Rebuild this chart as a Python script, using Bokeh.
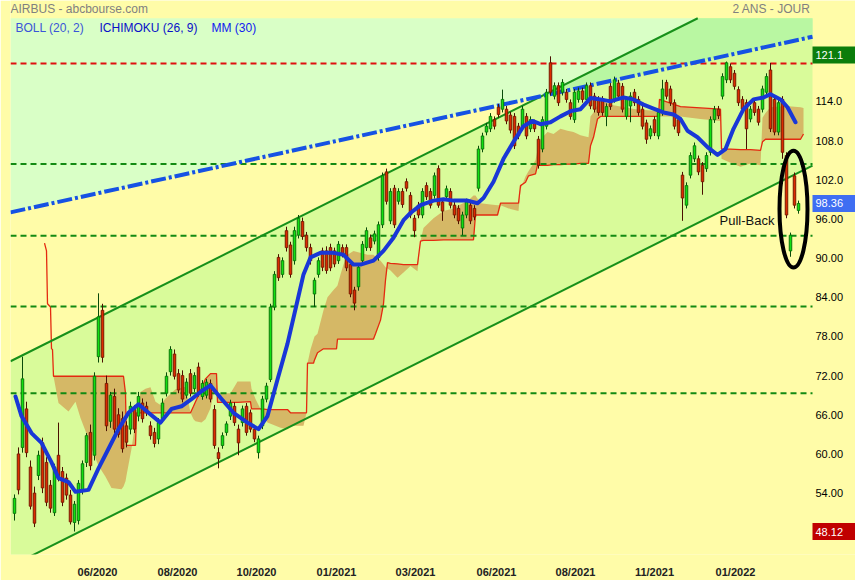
import numpy as np
from bokeh.plotting import figure
from bokeh.models import Range1d, FixedTicker, Label, ColumnDataSource
from bokeh.core.properties import value
from bokeh.embed import file_html
from bokeh.resources import INLINE

# ---------------- data ----------------
opens = [50.9, 60.0, 61.0, 66.9, 58.0, 54.0, 56.7, 61.7, 58.7, 55.2,
         51.0, 59.8, 57.3, 56.3, 53.7, 49.5, 49.8, 54.4, 58.7, 63.3,
         59.8, 74.9, 82.0, 70.8, 65.0, 68.8, 66.0, 65.4, 64.3, 63.8,
         66.8, 65.8, 67.8, 67.3, 64.3, 63.3, 62.3, 65.4, 69.3, 72.6,
         75.3, 72.3, 72.0, 69.0, 72.3, 70.0, 73.3, 68.8, 69.0, 70.8,
         66.8, 60.2, 61.3, 63.3, 65.8, 67.3, 63.8, 64.8, 67.3, 66.3,
         63.8, 60.2, 64.3, 68.4, 71.4, 82.5, 90.1, 87.5, 94.2, 92.0,
         89.6, 93.5, 95.6, 93.5, 91.6, 84.5, 87.5, 91.1, 91.1, 91.6,
         91.1, 89.6, 91.6, 91.6, 89.0, 85.1, 85.6, 89.6, 91.6, 93.1,
         92.6, 90.1, 95.1, 103.2, 95.7, 100.7, 98.7, 100.2, 101.7, 99.6,
         96.1, 98.1, 96.6, 101.1, 100.2, 99.6, 103.7, 98.6, 99.4, 100.2,
         98.1, 97.6, 94.6, 96.6, 98.1, 97.6, 100.7, 106.7, 109.3, 109.8,
         111.2, 113.1, 112.8, 112.8, 111.9, 111.7, 110.2, 110.2, 111.7, 109.8,
         110.7, 108.2, 106.7, 110.2, 119.9, 114.8, 116.4, 115.4, 115.4, 113.8,
         111.2, 114.3, 115.6, 114.3, 116.4, 114.8, 114.3, 114.3, 111.7, 116.3,
         114.3, 116.8, 116.3, 111.7, 113.3, 115.4, 114.3, 112.8, 110.7, 108.7,
         111.2, 108.7, 112.3, 116.9, 115.9, 113.8, 111.2, 102.7, 98.1, 102.7,
         105.2, 105.2, 104.2, 103.7, 106.2, 111.2, 112.8, 114.8, 117.3, 119.3,
         118.3, 115.8, 114.3, 113.8, 111.3, 113.8, 112.8, 112.8, 115.4, 118.8,
         114.3, 109.3, 114.3, 105.7, 91.1, 102.6, 97.3]
highs = [53.8, 61.0, 74.9, 68.0, 59.0, 55.0, 60.5, 62.5, 59.5, 56.0,
         58.5, 64.8, 58.0, 57.0, 54.5, 52.8, 56.0, 59.0, 63.2, 64.5,
         72.5, 84.6, 83.0, 72.0, 69.5, 70.0, 67.0, 66.5, 65.0, 68.0,
         67.5, 69.5, 68.5, 68.0, 65.0, 64.0, 65.5, 68.5, 72.5, 76.5,
         76.0, 73.0, 72.8, 71.6, 73.0, 72.5, 74.0, 71.3, 71.5, 71.4,
         67.5, 61.0, 63.3, 65.0, 68.3, 67.9, 64.5, 67.4, 67.8, 66.8,
         64.3, 62.8, 68.9, 70.9, 83.0, 88.0, 90.6, 90.1, 94.8, 92.5,
         94.8, 96.6, 96.2, 94.0, 92.2, 87.0, 90.1, 91.6, 91.8, 92.2,
         91.6, 92.6, 92.1, 92.1, 89.5, 85.6, 89.0, 92.6, 94.7, 93.6,
         94.2, 95.6, 103.1, 103.7, 100.7, 101.2, 100.7, 100.7, 102.2, 100.1,
         96.6, 98.6, 100.7, 101.6, 100.7, 103.1, 104.2, 99.1, 101.1, 100.7,
         98.6, 98.1, 97.1, 99.1, 98.6, 98.1, 107.2, 109.2, 110.7, 112.2,
         111.7, 113.6, 115.8, 113.3, 112.4, 112.2, 110.7, 113.3, 112.2, 111.7,
         111.2, 108.7, 111.7, 115.9, 120.9, 116.9, 116.9, 117.4, 115.9, 114.3,
         115.9, 116.1, 116.1, 116.9, 116.9, 115.3, 114.8, 114.8, 113.7, 116.8,
         117.8, 117.3, 116.8, 114.8, 115.4, 115.9, 114.8, 113.3, 111.2, 110.3,
         111.7, 112.8, 117.3, 117.3, 116.4, 114.3, 111.7, 103.2, 101.6, 106.2,
         107.7, 105.7, 104.7, 106.2, 111.7, 113.3, 113.3, 118.3, 120.1, 119.8,
         118.8, 116.3, 114.8, 114.3, 113.3, 114.3, 113.3, 116.4, 118.3, 119.9,
         114.8, 114.3, 114.8, 106.2, 93.9, 103.1, 98.8]
lows = [49.8, 53.8, 60.2, 59.5, 51.5, 48.8, 56.0, 54.0, 52.0, 51.0,
        50.5, 55.8, 52.0, 53.0, 49.2, 48.12, 49.2, 53.8, 58.0, 57.5,
        59.0, 74.0, 74.0, 63.5, 64.0, 63.2, 62.5, 60.2, 61.0, 63.0,
        63.2, 65.0, 64.8, 65.8, 62.2, 61.0, 61.5, 64.8, 68.8, 72.0,
        71.4, 69.3, 67.9, 68.5, 68.8, 69.5, 68.8, 68.3, 68.5, 67.9,
        60.8, 57.8, 60.8, 62.8, 65.2, 64.3, 59.8, 64.2, 62.8, 63.3,
        61.8, 59.3, 63.8, 67.9, 71.0, 82.0, 86.5, 87.0, 91.0, 87.0,
        89.0, 93.0, 92.8, 91.0, 89.0, 82.5, 87.0, 88.0, 87.6, 88.0,
        88.6, 89.1, 90.1, 88.0, 84.0, 82.0, 85.0, 89.1, 91.1, 91.1,
        92.1, 89.6, 94.6, 98.2, 95.2, 94.6, 98.2, 97.7, 100.2, 96.1,
        93.2, 96.1, 96.1, 98.9, 97.6, 99.1, 97.7, 95.7, 98.9, 97.6,
        96.1, 95.2, 93.5, 96.1, 95.2, 95.8, 100.2, 106.2, 108.8, 109.3,
        109.7, 111.5, 112.3, 110.5, 109.1, 106.7, 108.2, 109.7, 108.2, 109.3,
        109.3, 103.7, 106.2, 109.7, 114.9, 114.3, 113.3, 114.9, 113.8, 111.2,
        110.7, 113.8, 113.8, 113.8, 112.8, 112.3, 111.8, 111.8, 110.2, 112.7,
        113.8, 114.3, 112.3, 111.2, 110.8, 113.3, 111.8, 109.7, 107.5, 108.2,
        108.7, 108.2, 111.8, 114.3, 113.3, 109.7, 108.7, 95.7, 97.6, 102.2,
        104.7, 102.7, 99.7, 103.2, 105.7, 110.7, 111.3, 114.3, 116.8, 116.8,
        115.8, 113.3, 112.3, 106.7, 110.8, 111.8, 110.3, 112.3, 114.9, 109.3,
        108.8, 108.8, 105.2, 96.1, 90.2, 97.6, 96.8]
closes = [53.2, 54.5, 71.5, 60.2, 52.0, 49.4, 59.8, 54.8, 52.6, 51.7,
          58.0, 56.3, 52.6, 53.7, 49.6, 52.3, 55.5, 58.5, 62.8, 58.2,
          71.9, 81.0, 74.8, 64.3, 69.0, 63.8, 63.0, 60.8, 61.8, 67.3,
          63.8, 68.8, 65.4, 66.3, 62.8, 61.6, 64.8, 67.8, 71.9, 76.0,
          71.9, 69.8, 68.4, 71.0, 69.3, 72.0, 69.3, 70.8, 71.0, 68.4,
          61.3, 59.3, 62.8, 64.6, 67.8, 64.8, 61.7, 66.9, 63.3, 63.8,
          62.3, 62.3, 68.4, 70.4, 82.5, 87.5, 87.0, 89.6, 91.6, 87.5,
          94.2, 96.1, 93.3, 91.6, 89.6, 86.6, 89.6, 88.6, 88.1, 88.5,
          89.1, 92.1, 90.6, 88.5, 84.5, 83.1, 88.6, 92.1, 94.2, 91.6,
          93.7, 95.1, 102.6, 98.7, 100.2, 95.1, 100.2, 98.2, 100.7, 96.6,
          94.2, 96.6, 100.2, 99.4, 98.1, 102.6, 98.1, 97.2, 100.6, 98.1,
          96.6, 95.7, 96.6, 98.6, 95.7, 96.3, 106.7, 108.7, 110.2, 111.7,
          110.2, 112.0, 114.3, 111.0, 109.6, 107.2, 108.7, 112.8, 108.7, 111.2,
          109.8, 104.2, 111.2, 115.4, 115.4, 116.4, 113.8, 116.9, 114.3, 111.7,
          115.4, 115.6, 114.3, 116.4, 113.3, 112.8, 112.3, 112.3, 113.2, 113.2,
          117.3, 114.8, 112.8, 114.3, 114.8, 113.8, 112.3, 110.2, 108.2, 109.8,
          109.2, 112.3, 115.9, 114.8, 113.8, 110.2, 109.2, 99.2, 101.1, 105.7,
          107.2, 103.2, 101.7, 105.7, 111.2, 112.8, 111.8, 117.8, 119.9, 117.3,
          116.3, 113.8, 112.8, 109.8, 112.8, 112.3, 110.8, 115.9, 117.8, 109.8,
          109.3, 113.8, 106.2, 96.6, 93.5, 98.1, 98.36]
bars = list(range(len(closes)))

# MM (30)
ma_x = [0.25, 1.75, 4.25, 6.75, 9.25, 11, 13.5, 15.25, 18.5, 21,
        23.5, 26, 28.5, 31, 33.5, 36.5, 39.25, 41.75, 44.25, 46.75,
        49, 51.5, 54.75, 58.25, 61, 63.25, 65.75, 68.25, 70.75, 72.25,
        74, 76.5, 79.75, 82.25, 84.75, 86.5, 89.75, 92.25, 94.75, 97.25,
        99, 101.5, 104.75, 107.25, 109.75, 113.25, 115.75, 117.25, 119.75, 122.25,
        124.75, 127.25, 129.5, 131.5, 134, 136.5, 139, 141.5, 144, 146.5,
        149, 152.25, 154.75, 157.25, 159.75, 162.25, 164.75, 166.5, 168.25, 170.75,
        173.25, 175.75, 177.75, 179.75, 182.25, 184.75, 187.25, 189, 191.5, 193.25,
        195.25]
ma_y = [68.8, 65.8, 63.2, 61.7, 58.7, 56.3, 55.7, 54.2, 54.5, 57.8,
        60.8, 63.8, 66.3, 67.6, 66.3, 64.8, 66.9, 67.3, 68.4, 69.6,
        70.5, 68.6, 66.3, 64.8, 63.8, 65.8, 71.4, 76.9, 83.5, 87.5,
        90.1, 90.8, 90.8, 90.5, 89.0, 89.0, 89.6, 91.1, 93.1, 95.8,
        96.9, 98.1, 98.8, 99.0, 98.8, 98.8, 98.4, 99.2, 101.7, 105.2,
        107.8, 110.2, 111.0, 110.5, 110.8, 111.7, 112.5, 112.8, 114.5, 114.3,
        114.0, 114.6, 114.3, 113.5, 112.9, 112.3, 112.0, 111.3, 109.5, 108.5,
        107.0, 105.8, 106.7, 109.8, 112.8, 114.3, 114.6, 115.1, 114.3, 113.1,
        110.8]

# ICHIMOKU cloud (senkou B = red line, senkou A = other edge of the cloud)
ichi_x = [7.5, 8, 8.25, 9, 9.25, 9.5, 9.75, 11, 13.5, 15.25,
          16.5, 17.75, 19.25, 21, 22.75, 24.25, 26.75, 27.25, 27.75, 28,
          29.25, 30.25, 30.5, 31.5, 32.75, 34, 35.25, 36.5, 37.75, 40.25,
          42.75, 44, 44.75, 45.25, 46.75, 47.75, 49, 49.75, 50.5, 50.75,
          54, 55.75, 59, 59.25, 60.25, 61.5, 62, 63.25, 66.5, 68.25,
          69, 72.25, 73, 73.25, 74, 74.75, 75, 75.75, 77.25, 78.25,
          79.75, 80.5, 80.75, 81.5, 82.25, 83.25, 84.75, 88.25, 89.75, 90.25,
          91.5, 92.25, 92.75, 93.25, 94, 95.75, 97.25, 99, 100.75, 101.5,
          102.25, 104.75, 107.25, 109.75, 111.5, 113.25, 114.75, 115.25, 116.5, 119,
          120.75, 121.5, 124, 126, 126.5, 127.75, 128.5, 130.25, 130.75, 131.5,
          133.25, 134.75, 136.5, 138.25, 139.75, 141.5, 143.5, 144, 144.75, 145.75,
          146.5, 149, 151.5, 155.25, 159, 161, 161.25, 166.5, 171.5, 176.5,
          176.75, 179, 181.5, 184, 186.5, 187, 187.75, 189, 192.75, 196.5,
          197.25]
senkou_b = [92.3, 91.1, 83.0, 82.5, 76.1, 76.0, 71.9, 71.9, 71.9, 71.9,
            71.9, 71.9, 71.9, 71.9, 71.9, 71.9, 71.9, 71.9, 69.3, 61.3,
            61.3, 61.3, 66.3, 66.3, 66.3, 66.3, 66.3, 66.3, 66.3, 66.3,
            66.3, 66.3, 67.3, 68.0, 70.0, 71.5, 72.3, 72.3, 72.3, 67.9,
            67.9, 67.9, 68.0, 66.9, 66.9, 66.9, 66.9, 66.8, 66.8, 66.8,
            66.3, 66.3, 66.3, 73.9, 73.9, 73.9, 74.4, 75.5, 76.1, 76.1,
            76.1, 76.1, 77.6, 77.6, 77.6, 77.6, 77.6, 77.6, 77.6, 78.4,
            80.5, 83.0, 86.6, 89.3, 89.2, 89.1, 89.0, 89.0, 89.0, 92.6,
            92.7, 92.7, 92.8, 92.8, 92.8, 92.8, 92.8, 96.6, 96.6, 96.6,
            96.6, 98.4, 98.4, 98.4, 101.1, 101.6, 102.6, 102.9, 104.2, 104.2,
            104.2, 104.3, 104.3, 104.4, 104.4, 104.5, 104.5, 107.2, 108.5, 111.3,
            111.7, 111.7, 111.7, 111.7, 111.7, 111.7, 114.3, 113.2, 113.0, 112.8,
            106.7, 106.7, 106.6, 106.6, 106.5, 107.8, 108.2, 108.2, 108.2, 108.2,
            109.0]
senkou_a = [92.3, 91.1, 83.0, 82.5, 76.1, 76.0, 71.9, 67.8, 66.5, 68.0,
            65.5, 63.5, 60.8, 58.2, 56.5, 54.8, 54.6, 55.0, 55.8, 56.7,
            60.8, 65.0, 66.3, 69.5, 70.0, 70.2, 68.0, 67.5, 68.5, 69.9,
            70.3, 66.3, 65.3, 65.0, 64.8, 65.3, 67.0, 69.1, 69.3, 69.3,
            69.3, 71.1, 71.1, 70.0, 68.4, 66.9, 66.0, 64.8, 64.0, 63.8,
            64.3, 64.3, 66.3, 73.9, 76.0, 77.5, 78.0, 78.4, 82.0, 84.0,
            85.1, 85.6, 85.8, 87.5, 89.0, 90.5, 91.1, 90.5, 90.5, 90.2,
            89.6, 89.0, 88.6, 88.4, 88.1, 87.0, 87.8, 88.8, 88.0, 92.6,
            94.6, 96.1, 97.2, 97.6, 98.2, 98.7, 99.6, 99.6, 98.4, 98.2,
            98.1, 98.1, 97.5, 97.2, 100.5, 102.5, 103.3, 105.0, 106.5, 108.2,
            109.3, 109.0, 109.8, 109.5, 109.3, 108.8, 108.5, 111.7, 112.3, 113.5,
            114.3, 113.5, 113.2, 112.8, 112.6, 112.5, 111.7, 111.7, 111.3, 111.0,
            105.2, 104.6, 104.0, 104.5, 104.2, 111.5, 112.2, 113.1, 113.3, 113.1,
            113.0]

# hand-drawn trend lines (end points) and horizontal levels
channel_x = [-1, 199.5]
channel_upper = [74.2, 135.5]
channel_lower = [42.8, 104.15]
resist_x = [-1, 199.5]
resist_y = [97.0, 123.9]
green_levels = [104.4, 93.4, 82.6, 69.3]
red_levels = [119.8]

# axis ticks
date_tick_pos = [20.75, 40.75, 60.5, 80.5, 100.25, 120.5, 140.25, 160.0, 180.25]
date_tick_labels = ["06/2020", "08/2020", "10/2020", "01/2021", "03/2021",
                    "06/2021", "08/2021", "11/2021", "01/2022"]
price_ticks = [54, 60, 66, 72, 78, 84, 90, 96, 102, 108, 114]
price_tick_labels = ["54.00", "60.00", "66.00", "72.00", "78.00", "84.00",
                     "90.00", "96.00", "102.0", "108.0", "114.0"]

# marked prices (high / last / low)
mark_values = [121.1, 98.36, 48.12]
mark_texts = ["121.1", "98.36", "48.12"]
mark_colors = ["#0b7d0b", "#3f6ef2", "#c00000"]

# annotation: pull-back ellipse and text
pb_x, pb_y, pb_w, pb_h = 194.75, 97.5, 7.0, 17.9
pb_text_x, pb_text_y = 176.25, 95.8

# layout in data units
X_START, X_CONTENT_END, X_END = -1, 199.5, 210.25
Y_START, PLOT_TOP = 44.6, 126.73
PX_PER_UNIT = 6.6
Y_END = Y_START + 560 / PX_PER_UNIT

BG = "#fffca8"
FONT = "Liberation Sans"

# ---------------- figure ----------------
p = figure(width=855, height=580, output_backend="svg", toolbar_location=None,
           x_range=Range1d(X_START, X_END), y_range=Range1d(Y_START, Y_END),
           y_axis_location=None, min_border_left=10, min_border_top=0,
           min_border_right=0, min_border_bottom=20)
p.background_fill_color = BG
p.border_fill_color = BG
p.outline_line_color = None
p.grid.visible = False

# background zones
xs = np.linspace(X_START, X_CONTENT_END, 400)
up = np.interp(xs, channel_x, channel_upper)
lo = np.interp(xs, channel_x, channel_lower)
rs = np.interp(xs, resist_x, resist_y)
top = np.full_like(xs, PLOT_TOP)
p.varea(x=xs, y1=rs, y2=top, fill_color="#d9ffc6")
p.varea(x=xs, y1=lo, y2=np.minimum(up, top), fill_color="#d9fb9a")
p.varea(x=xs, y1=rs, y2=np.minimum(np.maximum(up, rs), top), fill_color="#b9f7a2")

# ichimoku cloud
p.varea(x=ichi_x, y1=senkou_a, y2=senkou_b, fill_color="#d4b060", fill_alpha=0.9)
p.line(ichi_x, senkou_b, line_color="#e42a10", line_width=1.3)

# horizontal levels
for lv in green_levels:
    p.line([X_START, X_CONTENT_END], [lv, lv], line_color="#138a13", line_width=2, line_dash="6 4")
for lv in red_levels:
    p.line([X_START, X_CONTENT_END], [lv, lv], line_color="#e01010", line_width=2, line_dash="6 4")

# trend lines (upper channel line stops at the top of the plot area)
slope_up = (channel_upper[1] - channel_upper[0]) / (channel_x[1] - channel_x[0])
x_up_end = channel_x[0] + (PLOT_TOP - channel_upper[0]) / slope_up
p.line([channel_x[0], x_up_end], [channel_upper[0], PLOT_TOP], line_color="#17901a", line_width=2)
p.line(channel_x, channel_lower, line_color="#17901a", line_width=2)
p.line(resist_x, resist_y, line_color="#1652e4", line_width=4, line_dash="15 3 3 3")

# candles
o = np.array(opens); c = np.array(closes)
up_bar = c >= o
src = ColumnDataSource(dict(
    x=bars, h=highs, l=lows,
    top=np.maximum(o, c), bottom=np.minimum(o, c),
    fill=np.where(up_bar, "#12e012", "#dd2a00"),
    line=np.where(up_bar, "#0a7a0a", "#7a1a00"),
    wick=np.where(up_bar, "#0a4a0a", "#4a0f00"),
))
p.segment(x0="x", y0="h", x1="x", y1="l", source=src, line_color="wick", line_width=1)
p.vbar(x="x", width=0.62, top="top", bottom="bottom", source=src,
       fill_color="fill", line_color="line", line_width=1)

# moving average
p.line(ma_x, ma_y, line_color="#1937d7", line_width=4, line_join="round", line_cap="round")

# pull-back annotation
p.ellipse(x=[pb_x], y=[pb_y], width=[pb_w], height=[pb_h], fill_alpha=0,
          line_color="black", line_width=4)
p.text(x=[pb_text_x], y=[pb_text_y], text=["Pull-Back"], text_font=value(FONT),
       text_font_size="13px", text_color="#111111", text_baseline="middle")

# price scale on the right (labels and marked-price boxes)
label_x = X_CONTENT_END + 0.75
p.text(x=[label_x] * len(price_ticks), y=price_ticks, text=price_tick_labels,
       text_font=value(FONT), text_font_size="11px", text_color="#000000",
       text_baseline="middle", text_align="left")
box_w = X_END - X_CONTENT_END
p.rect(x=[X_CONTENT_END + box_w / 2] * len(mark_values), y=mark_values,
       width=box_w, height=17, height_units="screen",
       fill_color=mark_colors, line_color=None)
p.text(x=[label_x] * len(mark_values), y=mark_values, text=mark_texts,
       text_font=value(FONT), text_font_size="11px", text_color="#ffffff",
       text_baseline="middle", text_align="left")

# date axis
xax = p.xaxis[0]
xax.ticker = FixedTicker(ticks=date_tick_pos)
xax.major_label_overrides = dict(zip(date_tick_pos, date_tick_labels))
xax.axis_line_color = None
xax.major_tick_line_color = None
xax.minor_tick_line_color = None
xax.major_label_standoff = 5
xax.major_label_text_font = FONT
xax.major_label_text_font_size = "11px"
xax.major_label_text_font_style = "bold"
xax.major_label_text_color = "#222222"

# title texts
title_y = Y_END - 8.5 / PX_PER_UNIT
p.text(x=[X_START], y=[title_y], text=["AIRBUS - abcbourse.com"], text_font=value(FONT),
       text_font_size="12px", text_color="#808080", text_baseline="middle")
p.text(x=[199.0], y=[title_y], text=["2 ANS - JOUR"], text_font=value(FONT),
       text_font_size="12px", text_color="#808080", text_baseline="middle",
       text_align="right")

# legend texts
legend_x = [0.25, 21.25, 49.25]
legend_txt = ["BOLL (20, 2)", "ICHIMOKU (26, 9)", "MM (30)"]
legend_col = ["#3a55d8", "#0a10c8", "#1020f0"]
legend_y = Y_END - 27.5 / PX_PER_UNIT
p.text(x=legend_x, y=[legend_y] * 3, text=legend_txt, text_font=value(FONT),
       text_font_size="12px", text_color=legend_col, text_baseline="middle")

html = file_html(p, INLINE, title="AIRBUS")
html = html.replace("<body>", '<body style="background-color:%s;">' % BG, 1)
open("out.html", "w").write(html)
